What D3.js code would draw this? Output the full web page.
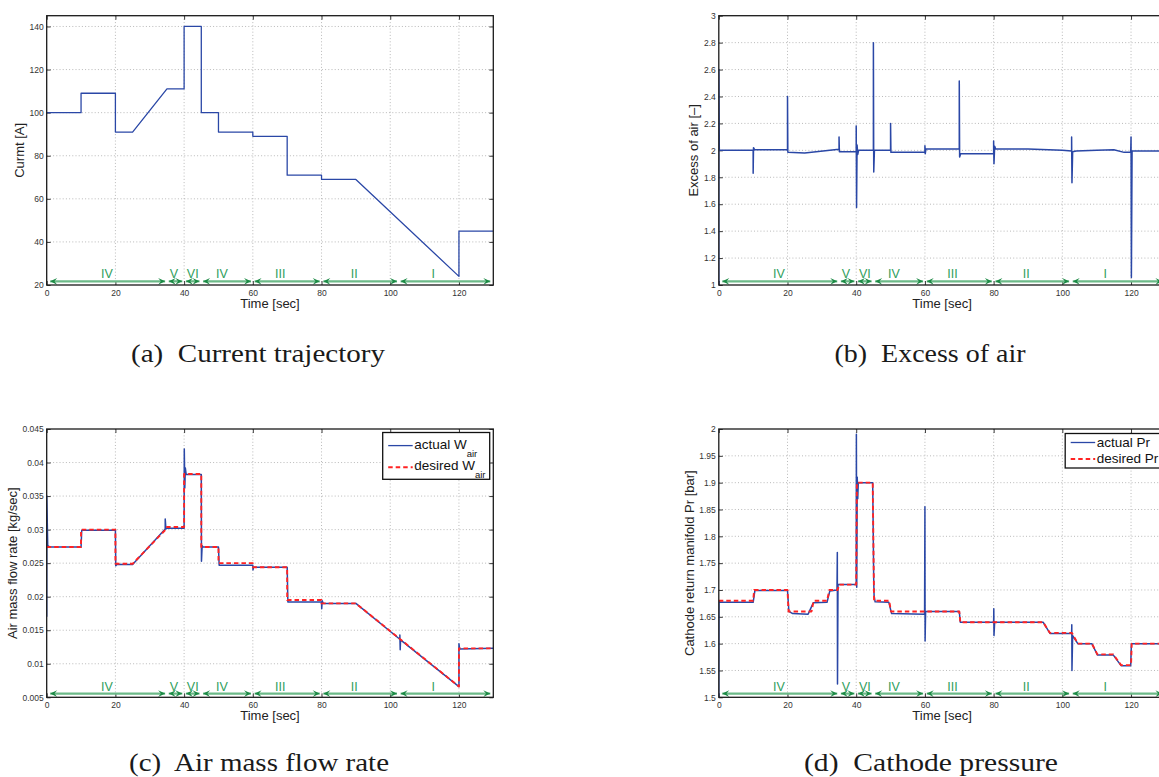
<!DOCTYPE html>
<html>
<head>
<meta charset="utf-8">
<script src="https://cdn.jsdelivr.net/npm/d3@7"></script>
<style>
  html, body { margin: 0; padding: 0; background: #fff; }
  svg { display: block; }
</style>
</head>
<body>
<svg id="fig" width="1159" height="777"></svg>
<script>
// ---------------- data ----------------
const timeTicks     = [0, 20, 40, 60, 80, 100, 120];
const currentTicks  = [20, 40, 60, 80, 100, 120, 140];
const excessTicks   = [1, 1.2, 1.4, 1.6, 1.8, 2, 2.2, 2.4, 2.6, 2.8, 3];
const airflowTicks  = [0.005, 0.01, 0.015, 0.02, 0.025, 0.03, 0.035, 0.04, 0.045];
const pressureTicks = [1.5, 1.55, 1.6, 1.65, 1.7, 1.75, 1.8, 1.85, 1.9, 1.95, 2];

// operating regions along the time axis
const regionEdges   = [0, 35, 40, 45, 60, 80, 102.5, 130];
const regionNames   = ["IV", "V", "VI", "IV", "III", "II", "I"];
const regionLabelAt = [17.5, 37, 42.5, 51, 68, 89.5, 112.5];

// stack current [s, A]
const currentA = [
  [0,100],[10,100],[10,109],[20,109],[20,91],[25,91],[35,111],[40,111],[40,140],
  [45,140],[45,100],[50,100],[50,91],[60,91],[60,89],[70,89],[70,71],[80,71],
  [80,69],[90,69],[120,24],[120,45],[130,45]
];

// oxygen excess ratio [s, -]
const excessAir = [
  [0,1.0],[0.02,2.6],[0.15,2.0],
  [10,2.0],[10,1.83],[10.1,2.02],[10.4,2.005],
  [20,2.005],[20,2.40],[20.1,1.985],[25,1.98],[35,2.008],[35,2.10],[35.1,1.99],[35.4,1.99],
  [40,1.99],[40,2.18],[40.1,1.575],[40.25,2.04],[40.45,1.97],[40.7,2.0],
  [45,2.0],[45,2.80],[45.1,1.84],[45.3,2.0],
  [50,2.0],[50,2.20],[50.1,1.985],
  [60,1.985],[60,2.035],[60.1,1.975],[60.3,2.01],
  [70,2.01],[70,2.515],[70.1,1.95],[70.4,1.975],
  [80,1.975],[80,2.07],[80.1,1.90],[80.3,2.03],[80.6,2.01],
  [90,2.01],[100,2.0],[102.7,1.995],[102.7,2.10],[102.8,1.76],[103,1.99],[104,1.995],
  [110,2.0],[115,2.005],[118,1.985],[119.9,1.985],
  [120,2.10],[120.1,1.055],[120.3,1.995],[130,1.995]
];

// air mass flow [s, kg/s]
const airflowActual = [
  [0,0.017],[0.02,0.035],[0.3,0.0276],[1,0.0274],[10,0.0274],[10.2,0.0299],[20,0.0299],
  [20.1,0.0246],[20.4,0.0248],[25,0.0248],[34.5,0.0301],[34.5,0.0316],[34.7,0.0301],
  [35,0.0302],[40,0.0302],[40.05,0.042],[40.2,0.0362],[40.35,0.0392],[40.6,0.0382],
  [45,0.0382],[45.05,0.0253],[45.25,0.0276],[45.5,0.0274],[50,0.0274],[50.2,0.0247],
  [60,0.0247],[60.05,0.0240],[60.2,0.0244],[70,0.0244],[70.2,0.0192],[80,0.0192],
  [80.05,0.0182],[80.2,0.0194],[80.5,0.0190],[90,0.0190],[102.8,0.01365],[102.8,0.0143],
  [102.9,0.0121],[103,0.01355],[120,0.0066],[120,0.0130],[120.2,0.0122],[130,0.0123]
];
const airflowDesired = [
  [0,0.0274],[10,0.0274],[10,0.0300],[20,0.0300],[20,0.0249],[25,0.0249],[35,0.0302],
  [35,0.0304],[40,0.0304],[40,0.0383],[45,0.0383],[45,0.0274],[50,0.0274],[50,0.0250],
  [60,0.0250],[60,0.0244],[70,0.0244],[70,0.0195],[80,0.0195],[80,0.0190],[90,0.0190],
  [120,0.0066],[120,0.0123],[130,0.0123]
];

// cathode return manifold pressure [s, bar]
const pressureActual = [
  [0,1.50],[0.05,1.68],[0.3,1.677],[10,1.677],[10.5,1.699],[20,1.699],[20.4,1.66],
  [21.5,1.656],[26,1.655],[27.5,1.676],[31.5,1.677],[32.3,1.698],[34.4,1.70],[34.5,1.77],
  [34.55,1.525],[34.7,1.71],[40,1.71],[40.05,1.99],[40.15,1.705],[40.3,1.91],[40.45,1.87],
  [40.6,1.90],[44.8,1.90],[45.1,1.715],[45.2,1.69],[45.5,1.678],[49.5,1.677],[50.3,1.656],
  [59.9,1.655],[60,1.855],[60.05,1.605],[60.2,1.66],[70,1.66],[70.3,1.64],[80,1.64],
  [80.05,1.665],[80.1,1.615],[80.3,1.64],[94.4,1.64],[96.4,1.619],[102.7,1.619],
  [102.75,1.635],[102.8,1.55],[103,1.615],[104.5,1.60],[108.6,1.60],[110.2,1.579],
  [114.8,1.579],[117.1,1.559],[119.9,1.559],[120.1,1.60],[130,1.60]
];
const pressureDesired = [
  [0,1.68],[10,1.68],[10.3,1.70],[20,1.70],[20.3,1.66],[27,1.66],[27.6,1.68],[31.5,1.68],
  [32.2,1.70],[34.6,1.70],[35,1.71],[40,1.71],[40.2,1.90],[44.8,1.90],[45.2,1.68],
  [49.6,1.68],[50.1,1.66],[70,1.66],[70.3,1.64],[94.4,1.64],[96.4,1.62],[102.8,1.62],
  [104.5,1.60],[108.6,1.60],[110.2,1.58],[114.8,1.58],[117.1,1.56],[120,1.56],
  [120.2,1.60],[130,1.60]
];

// ---------------- drawing ----------------
const svg = d3.select("#fig");
const defs = svg.append("defs");
const SANS = "'Liberation Sans', Arial, Helvetica, sans-serif";
const SERIF = "'Liberation Serif', 'Times New Roman', serif";
const BLUE = "#2a47a6";
const RED = "#ff2323";

const fmt = v => String(+v.toFixed(4));
const plotW = 446.6;

function drawPanel(o) {
  const g = svg.append("g");
  const bottom = o.bottom, top = o.top, left = o.left, right = o.left + plotW;
  const x = d3.scaleLinear().domain([0, 130]).range([left, right]);
  const y = d3.scaleLinear().domain(o.yDomain).range([bottom, top]);

  const clipId = "clip-" + o.key;
  defs.append("clipPath").attr("id", clipId)
    .append("rect").attr("x", left).attr("y", top - 1)
    .attr("width", plotW).attr("height", bottom - top + 2);

  // dotted grid
  const grid = g.append("g").attr("stroke", "#a8a8a8").attr("stroke-width", 0.8)
    .attr("stroke-dasharray", "1,2.2");
  grid.selectAll("line.v").data(timeTicks.filter(t => t > 0)).join("line")
    .attr("x1", d => x(d)).attr("x2", d => x(d)).attr("y1", top).attr("y2", bottom);
  grid.selectAll("line.h").data(o.yTicks.filter(v => v > o.yDomain[0] && v < o.yDomain[1])).join("line")
    .attr("x1", left).attr("x2", right).attr("y1", d => y(d)).attr("y2", d => y(d));

  // axes with inward ticks
  const styleAxis = sel => {
    sel.select(".domain").remove();
    sel.selectAll("line").attr("stroke", "#222").attr("stroke-width", 0.9);
    sel.selectAll("text").attr("font-family", SANS).attr("font-size", 8.5).attr("fill", "#333");
  };
  g.append("g").attr("transform", `translate(0,${bottom})`)
    .call(d3.axisBottom(x).tickValues(timeTicks).tickFormat(fmt).tickSizeInner(-4).tickSizeOuter(0).tickPadding(4.5))
    .call(styleAxis);
  g.append("g").attr("transform", `translate(0,${top})`)
    .call(d3.axisTop(x).tickValues(timeTicks).tickFormat("").tickSizeInner(-4).tickSizeOuter(0))
    .call(styleAxis);
  g.append("g").attr("transform", `translate(${left},0)`)
    .call(d3.axisLeft(y).tickValues(o.yTicks).tickFormat(fmt).tickSizeInner(-4).tickSizeOuter(0).tickPadding(3))
    .call(styleAxis);
  g.append("g").attr("transform", `translate(${right},0)`)
    .call(d3.axisRight(y).tickValues(o.yTicks).tickFormat("").tickSizeInner(-4).tickSizeOuter(0))
    .call(styleAxis);

  // region arrows and names
  const ay = bottom - 3.7;
  const reg = g.append("g");
  const head = (xt, dir) => {
    const L = 7, H = 3.4, N = 4.2;
    reg.append("path")
      .attr("d", `M${xt},${ay}L${xt - dir * L},${ay - H}L${xt - dir * N},${ay}L${xt - dir * L},${ay + H}Z`)
      .attr("fill", "#1c8a45");
  };
  regionNames.forEach((name, i) => {
    const x0 = x(regionEdges[i]) + (i === 0 ? 3.5 : 1.8);
    const x1 = x(regionEdges[i + 1]) - (i === regionNames.length - 1 ? 3 : 1.8);
    reg.append("line").attr("x1", x0).attr("x2", x1).attr("y1", ay).attr("y2", ay)
      .attr("stroke", "#6cba88").attr("stroke-width", 2.2);
    head(x0, -1);
    head(x1, 1);
    reg.append("text").attr("x", x(regionLabelAt[i])).attr("y", bottom - 6.6)
      .attr("text-anchor", "middle").attr("font-family", SANS).attr("font-size", 12.5)
      .attr("fill", "#2f9e5c").text(name);
  });

  // data lines
  const line = d3.line().x(d => x(d[0])).y(d => y(d[1]));
  const lines = g.append("g").attr("clip-path", `url(#${clipId})`);
  o.series.forEach(s => {
    lines.append("path").datum(s.data).attr("d", line).attr("fill", "none")
      .attr("stroke", s.color).attr("stroke-width", s.width)
      .attr("stroke-dasharray", s.dash || null)
      .attr("stroke-linejoin", "round");
  });

  // axes box
  g.append("rect").attr("x", left).attr("y", top).attr("width", plotW).attr("height", bottom - top)
    .attr("fill", "none").attr("stroke", "#1a1a1a").attr("stroke-width", 1.3);

  // axis titles
  g.append("text").attr("x", (left + right) / 2).attr("y", bottom + 23)
    .attr("text-anchor", "middle").attr("font-family", SANS).attr("font-size", 13)
    .attr("fill", "#222").text("Time [sec]");
  g.append("text")
    .attr("transform", `translate(${o.labelX},${(top + bottom) / 2}) rotate(-90)`)
    .attr("text-anchor", "middle").attr("dy", "0.36em")
    .attr("font-family", SANS).attr("font-size", 13).attr("fill", "#222").text(o.yLabel);

  // legend
  if (o.legend) {
    const L = o.legend;
    const lg = g.append("g");
    lg.append("rect").attr("x", L.x).attr("y", L.y).attr("width", L.w).attr("height", L.h)
      .attr("fill", "#fff").attr("stroke", "#111").attr("stroke-width", 1.3);
    L.rows.forEach(r => {
      lg.append("line").attr("x1", L.x + 5.5).attr("x2", L.x + 30).attr("y1", r.ly).attr("y2", r.ly)
        .attr("stroke", r.color).attr("stroke-width", r.width).attr("stroke-dasharray", r.dash || null);
      const t = lg.append("text").attr("x", L.x + 31.5).attr("y", r.ty)
        .attr("font-family", SANS).attr("font-size", 13.5).attr("fill", "#111").text(r.text);
      if (r.sub) t.append("tspan").attr("font-size", 9.5).attr("dy", 8).text(r.sub);
    });
  }
}

drawPanel({
  key: "a", left: 46.7, top: 15.7, bottom: 285, yDomain: [20, 145], yTicks: currentTicks,
  yLabel: "Curmt [A]", labelX: 19,
  series: [{ data: currentA, color: BLUE, width: 1.3 }]
});
drawPanel({
  key: "b", left: 718.8, top: 15.7, bottom: 285, yDomain: [1, 3], yTicks: excessTicks,
  yLabel: "Excess of air [–]", labelX: 693,
  series: [{ data: excessAir, color: BLUE, width: 1.5 }]
});
drawPanel({
  key: "c", left: 46.7, top: 429, bottom: 697.3, yDomain: [0.005, 0.045], yTicks: airflowTicks,
  yLabel: "Air mass flow rate [kg/sec]", labelX: 12.7,
  series: [
    { data: airflowActual, color: BLUE, width: 1.5 },
    { data: airflowDesired, color: RED, width: 1.9, dash: "4.5,3" }
  ],
  legend: {
    x: 382.7, y: 432.5, w: 107, h: 46.8,
    rows: [
      { color: BLUE, width: 1.3, ly: 445.6, ty: 448.5, text: "actual W", sub: "air" },
      { color: RED, width: 1.9, dash: "4.5,3", ly: 467.3, ty: 470, text: "desired W", sub: "air" }
    ]
  }
});
drawPanel({
  key: "d", left: 718.8, top: 429, bottom: 697.3, yDomain: [1.5, 2], yTicks: pressureTicks,
  yLabel: "Cathode return manifold Pr [bar]", labelX: 689,
  series: [
    { data: pressureActual, color: BLUE, width: 1.5 },
    { data: pressureDesired, color: RED, width: 1.9, dash: "4.5,3" }
  ],
  legend: {
    x: 1065.2, y: 433.5, w: 98, h: 34.5,
    rows: [
      { color: BLUE, width: 1.3, ly: 442.5, ty: 446.8, text: "actual Pr" },
      { color: RED, width: 1.9, dash: "4.5,3", ly: 459, ty: 463, text: "desired Pr" }
    ]
  }
});

// sub-figure captions
const captions = [
  { text: "(a)  Current trajectory", cx: 258, y: 362, len: 254 },
  { text: "(b)  Excess of air", cx: 930, y: 362, len: 191 },
  { text: "(c)  Air mass flow rate", cx: 259, y: 771, len: 260 },
  { text: "(d)  Cathode pressure", cx: 931, y: 771, len: 254 }
];
svg.append("g").selectAll("text").data(captions).join("text")
  .attr("x", d => d.cx).attr("y", d => d.y)
  .attr("text-anchor", "middle")
  .attr("textLength", d => d.len).attr("lengthAdjust", "spacingAndGlyphs")
  .attr("font-family", SERIF).attr("font-size", 26).attr("fill", "#1a1a1a")
  .attr("xml:space", "preserve")
  .text(d => d.text);
</script>
</body>
</html>
